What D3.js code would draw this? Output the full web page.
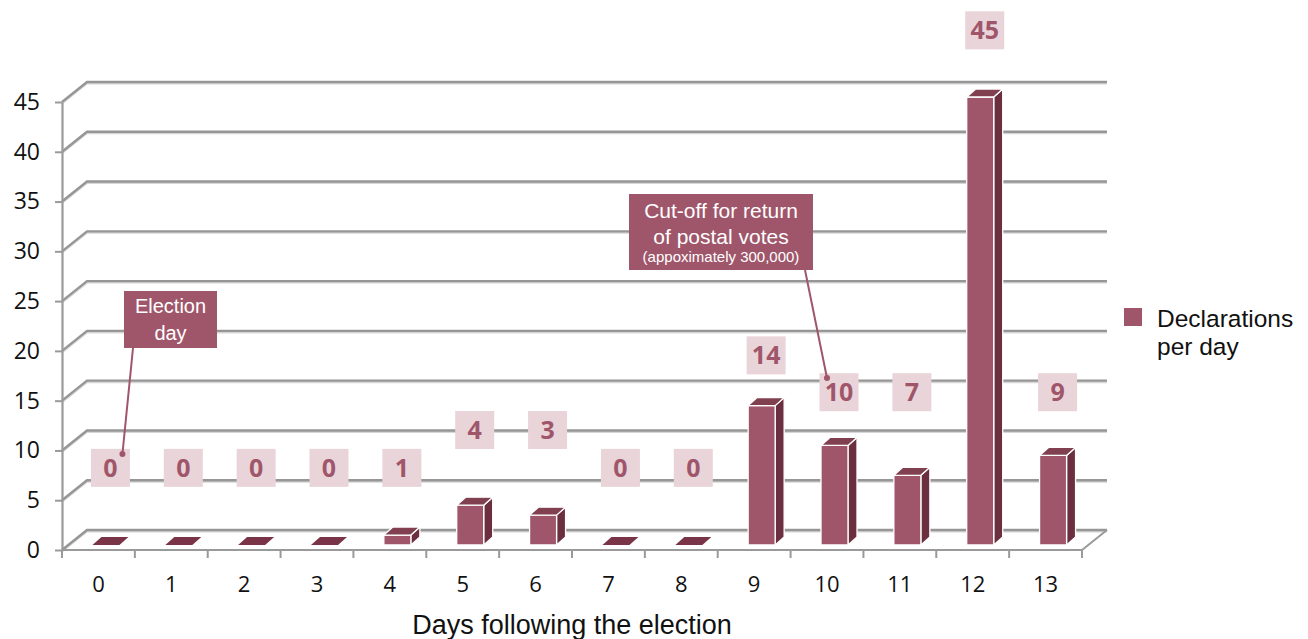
<!DOCTYPE html>
<html><head><meta charset="utf-8">
<script src="https://cdn.jsdelivr.net/npm/d3@7"></script>
<style>
html,body{margin:0;padding:0;background:#fff;}
svg{display:block;}
</style></head>
<body>
<svg id="chart" width="1308" height="639"></svg>
<script>
// ---- data ----
const days = [0,1,2,3,4,5,6,7,8,9,10,11,12,13];
const declarations = [0,0,0,0,1,4,3,0,0,14,10,7,45,9];
const yTicks = [0,5,10,15,20,25,30,35,40,45];
const seriesName = ["Declarations", "per day"];
const xTitle = "Days following the election";
const note1 = ["Election", "day"];
const note2 = ["Cut-off for return", "of postal votes", "(appoximately 300,000)"];

// ---- layout ----
const svg = d3.select("#chart");
const x = d3.scaleBand().domain(days).range([62, 1082]).padding(0);
const y = d3.scaleLinear().domain([0, 45]).range([550, 102]);
const bw = x.bandwidth();
const back = {dx: 25, dy: -20};
const frontCol = "#a0566a", sideCol = "#6b2f40", topCol = "#80404f";
const boxFill = "#e9d4d9";
// label placement levels (in value units) as laid out in the reference
const labelLevel = [8.25,8.25,8.25,8.25,8.25,12.05,12.05,8.25,8.25,19.55,15.85,15.85,52.2,15.85];

// gridlines (left wall diagonal + back wall)
const g = svg.append("g");
yTicks.forEach(t => {
  const yy = y(t);
  const pts = [[62, yy], [62 + back.dx, yy + back.dy], [1082 + back.dx, yy + back.dy]];
  g.append("path").attr("d", d3.line()(pts.map(p => [p[0], p[1] + 1.5])))
    .attr("fill", "none").attr("stroke", "#d6d6d6").attr("stroke-width", 2);
  g.append("path").attr("d", d3.line()(pts))
    .attr("fill", "none").attr("stroke", "#969696").attr("stroke-width", 2.4);
});
// floor
g.append("path").attr("d", d3.line()([[62, y(0)], [1082, y(0)], [1082 + back.dx, y(0) + back.dy]]))
  .attr("fill", "none").attr("stroke", "#9a9a9a").attr("stroke-width", 2);
// x boundary ticks
const bounds = days.map(d => x(d)).concat([x(days[days.length - 1]) + bw]);
g.selectAll(".xt").data(bounds).join("line")
  .attr("x1", d => d).attr("x2", d => d).attr("y1", y(0)).attr("y2", y(0) + 8)
  .attr("stroke", "#9a9a9a").attr("stroke-width", 2);

// y axis
const ya = svg.append("g").attr("transform", "translate(62,0)")
  .call(d3.axisLeft(y).tickValues(yTicks).tickSize(7).tickSizeOuter(0).tickPadding(15));
ya.select(".domain").attr("stroke", "#9a9a9a").attr("stroke-width", 2.2);
ya.selectAll(".tick line").attr("stroke", "#9a9a9a").attr("stroke-width", 2);
ya.selectAll("text").attr("font-family", "'Open Sans', sans-serif").attr("font-size", 23).attr("fill", "#111");

// x axis labels
const xa = svg.append("g").attr("transform", `translate(0,${y(0)})`)
  .call(d3.axisBottom(x).tickSize(0).tickPadding(26));
xa.select(".domain").remove();
xa.selectAll("text").attr("font-family", "'Open Sans', sans-serif").attr("font-size", 22).attr("fill", "#111");

// bars (3D boxes)
const bd = {dx: 9, dy: -8};
const bars = svg.append("g");
days.forEach((d, i) => {
  const v = declarations[i];
  const x0 = x(d) + bw / 2 - 6, x1 = x0 + 27;
  const yb = y(0) - 5, yt = y(v) - 5;
  const grp = bars.append("g").attr("stroke", "#fff").attr("stroke-width", 1.3).attr("stroke-linejoin", "round");
  if (v > 0) {
    grp.append("path").attr("fill", sideCol)
      .attr("d", d3.line()([[x1, yt], [x1 + bd.dx, yt + bd.dy], [x1 + bd.dx, yb + bd.dy], [x1, yb]]) + "Z");
    grp.append("rect").attr("fill", frontCol).attr("x", x0).attr("y", yt).attr("width", x1 - x0).attr("height", yb - yt);
  }
  grp.append("path").attr("fill", v > 0 ? topCol : "#7a3448").attr("stroke-width", v > 0 ? 1.3 : 0)
    .attr("d", d3.line()([[x0, yt], [x0 + bd.dx, yt + bd.dy], [x1 + bd.dx, yt + bd.dy], [x1, yt]]) + "Z");
});

// value labels
const labs = svg.append("g");
days.forEach((d, i) => {
  const cx = x(d) + bw / 2 + 12, cy = y(labelLevel[i]);
  labs.append("rect").attr("x", cx - 19.5).attr("y", cy - 19).attr("width", 39).attr("height", 38).attr("fill", boxFill);
  labs.append("text").attr("x", cx).attr("y", cy).attr("dy", "0.36em").attr("text-anchor", "middle")
    .attr("font-family", "'Open Sans', sans-serif").attr("font-weight", 700).attr("font-size", 25)
    .attr("fill", frontCol).text(declarations[i]);
});

// annotations
const ann = svg.append("g");
function callout(rect, lines, sizes, lineYs, from, to) {
  ann.append("line").attr("x1", from[0]).attr("y1", from[1]).attr("x2", to[0]).attr("y2", to[1])
    .attr("stroke", frontCol).attr("stroke-width", 2);
  ann.append("circle").attr("cx", to[0]).attr("cy", to[1]).attr("r", 3).attr("fill", frontCol);
  ann.append("rect").attr("x", rect[0]).attr("y", rect[1]).attr("width", rect[2]).attr("height", rect[3]).attr("fill", frontCol);
  lines.forEach((t, k) => {
    ann.append("text").attr("x", rect[0] + rect[2] / 2).attr("y", lineYs[k]).attr("text-anchor", "middle")
      .attr("font-family", "'Liberation Sans', Arial, sans-serif").attr("font-size", sizes[k]).attr("fill", "#fff").text(t);
  });
}
const c0 = x(0) + bw / 2;
callout([124, 291, 93, 57], note1, [20, 20], [313, 340], [133, 348], [c0 + 24, y(0) - 96]);
const c10 = x(10) + bw / 2;
callout([629, 194, 184, 76], note2, [21, 21, 15], [218, 244, 262], [805, 270], [c10, y(0) - 172]);

// legend
const lg = svg.append("g");
lg.append("rect").attr("x", 1124).attr("y", 308).attr("width", 18).attr("height", 18).attr("fill", frontCol);
seriesName.forEach((t, k) => {
  lg.append("text").attr("x", 1157).attr("y", 327 + k * 28)
    .attr("font-family", "'Liberation Sans', Arial, sans-serif").attr("font-size", 24.5).attr("fill", "#111").text(t);
});

// x title
svg.append("text").attr("x", 572).attr("y", 634).attr("text-anchor", "middle")
  .attr("font-family", "'Liberation Sans', Arial, sans-serif").attr("font-size", 27).attr("fill", "#111").text(xTitle);
</script>
</body></html>
